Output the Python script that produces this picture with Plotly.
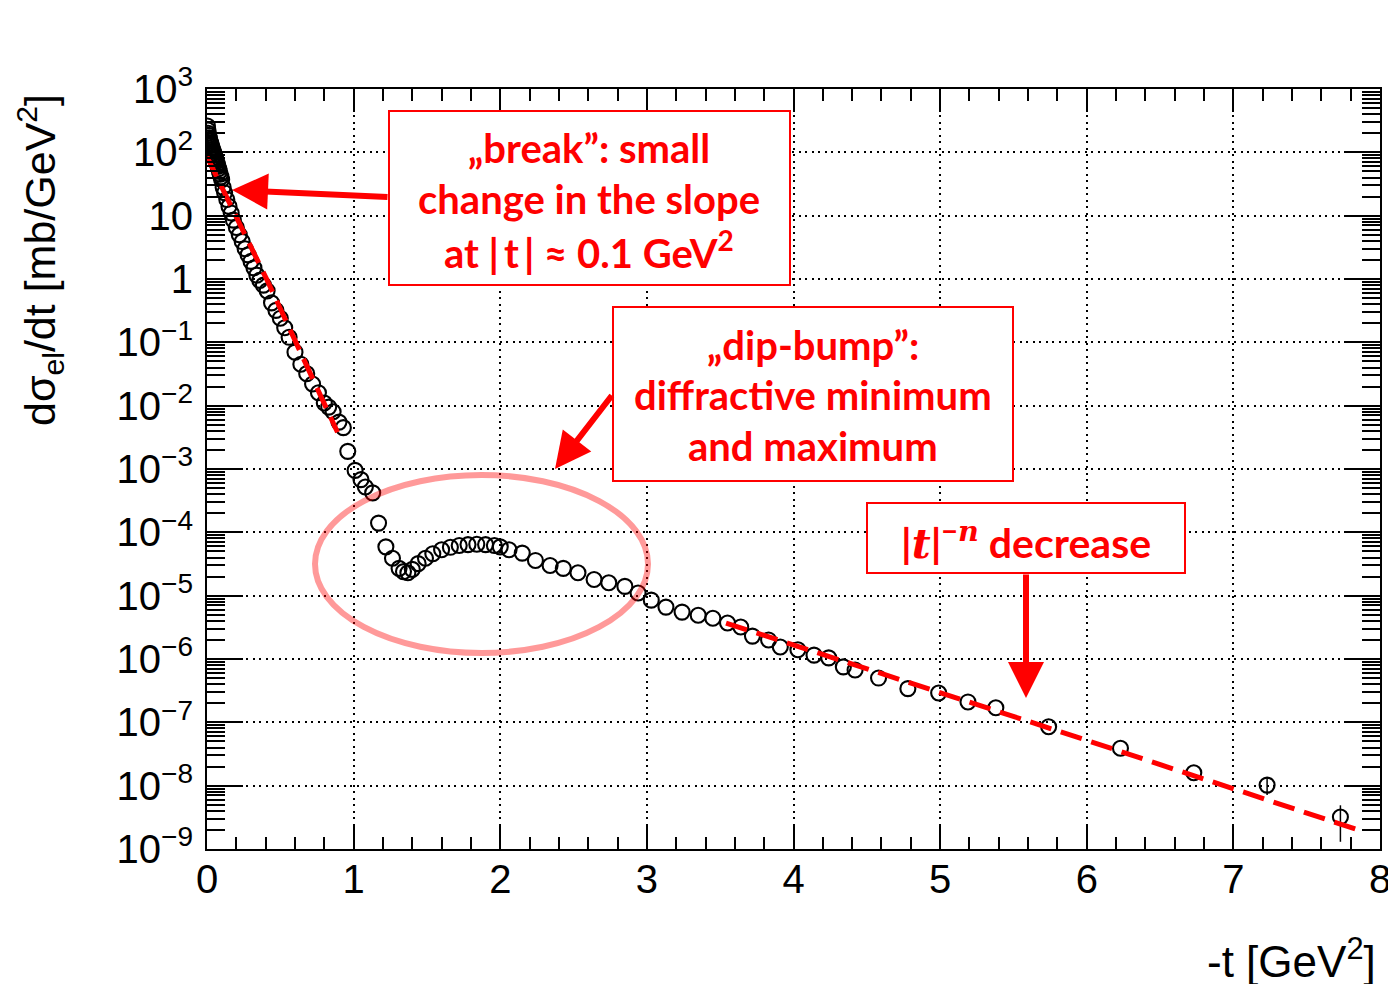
import plotly.graph_objects as go

# ---- measured elastic pp differential cross section ----
t_data = [
    0.003, 0.006, 0.009, 0.012, 0.015, 0.018, 0.021, 0.024, 0.027, 0.030,
    0.034, 0.038, 0.042, 0.046, 0.050, 0.055, 0.060, 0.065, 0.070, 0.075,
    0.080, 0.085, 0.090, 0.095, 0.100, 0.110, 0.120, 0.135, 0.150, 0.165,
    0.180, 0.200, 0.220, 0.240, 0.260, 0.280, 0.300, 0.320, 0.340, 0.360,
    0.385, 0.410, 0.440, 0.470, 0.500, 0.530, 0.560, 0.600, 0.640, 0.680,
    0.720, 0.760, 0.800, 0.830, 0.860, 0.900, 0.930, 0.960, 1.010, 1.050,
    1.080, 1.130, 1.170, 1.220, 1.265, 1.310, 1.340, 1.370, 1.400, 1.440,
    1.490, 1.540, 1.600, 1.660, 1.720, 1.780, 1.840, 1.900, 1.960, 2.000,
    2.060, 2.150, 2.240, 2.340, 2.430, 2.530, 2.640, 2.740, 2.850, 2.940,
    3.030, 3.130, 3.240, 3.350, 3.450, 3.550, 3.640, 3.720, 3.830, 3.910,
    4.030, 4.140, 4.240, 4.340, 4.420, 4.580, 4.780, 4.990, 5.190, 5.380,
    5.740, 6.230, 6.730, 7.230, 7.730,
]
dsigma_dt = [
    260, 225, 200, 185, 170, 160, 150, 142, 135, 128,
    120, 112, 105, 98, 92, 85, 78, 72, 66, 60,
    55, 50, 45, 41, 37, 28, 23, 18, 14, 11,
    8.5, 6.5, 5.0, 3.9, 3.0, 2.4, 1.9, 1.5, 1.15, 0.95,
    0.8, 0.65, 0.42, 0.32, 0.24, 0.17, 0.12, 0.070, 0.045, 0.032,
    0.022, 0.016, 0.011, 0.0095, 0.0080, 0.0055, 0.0045, 0.0019, 9.5e-4, 6.8e-4,
    5.2e-4, 4.2e-4, 1.4e-4, 5.9e-5, 3.9e-5, 2.7e-5, 2.4e-5, 2.3e-5, 2.6e-5, 3.2e-5,
    3.9e-5, 4.6e-5, 5.3e-5, 5.8e-5, 6.2e-5, 6.4e-5, 6.5e-5, 6.4e-5, 6.2e-5, 5.9e-5,
    5.3e-5, 4.7e-5, 3.6e-5, 3.0e-5, 2.7e-5, 2.3e-5, 1.8e-5, 1.6e-5, 1.4e-5, 1.1e-5,
    8.5e-6, 6.6e-6, 5.5e-6, 4.9e-6, 4.4e-6, 3.7e-6, 3.2e-6, 2.3e-6, 2.0e-6, 1.55e-6,
    1.4e-6, 1.15e-6, 1.04e-6, 7.5e-7, 6.7e-7, 5.0e-7, 3.4e-7, 2.9e-7, 2.1e-7, 1.7e-7,
    8.5e-8, 3.9e-8, 1.6e-8, 1.02e-8, 3.2e-9,
]
err_up = [0.0] * (len(t_data) - 2) + [3.0e-9, 1.7e-9]
err_down = [0.0] * (len(t_data) - 2) + [3.1e-9, 1.9e-9]

# ---- fitted trends drawn as dashed guides ----
fit_low_t = [0.0, 0.41, 0.89]
fit_low_y = [85, 0.96, 0.0038]
fit_high_t = [3.54, 6.0, 7.85]
fit_high_y = [3.7e-6, 5.2e-8, 2.0e-9]

# ---- axis ticks ----
y_tickvals = [1e3, 1e2, 1e1, 1e0, 1e-1, 1e-2, 1e-3, 1e-4, 1e-5, 1e-6, 1e-7, 1e-8, 1e-9]
y_ticktext = ["10<sup>3</sup>", "10<sup>2</sup>", "10", "1",
              "10<sup>\u22121</sup>", "10<sup>\u22122</sup>", "10<sup>\u22123</sup>",
              "10<sup>\u22124</sup>", "10<sup>\u22125</sup>", "10<sup>\u22126</sup>",
              "10<sup>\u22127</sup>", "10<sup>\u22128</sup>", "10<sup>\u22129</sup>"]
x_tickvals = [0, 1, 2, 3, 4, 5, 6, 7, 8]

W, H = 1388, 984
L, R, T, B = 207, 8, 89, 135
PW, PH = W - L - R, H - T - B


def px(x):
    return (x - L) / PW


def py(y):
    return (H - B - y) / PH


RED = "#ff0000"
BOX_FONT = "Lato"
SERIF_IT = "<span style=\"font-family:'DejaVu Serif';font-style:italic\">%s</span>"

fig = go.Figure()

fig.add_trace(go.Scatter(
    x=t_data, y=dsigma_dt, mode="markers",
    marker=dict(symbol="circle-open", size=15, color="black", line=dict(width=2.1, color="black")),
    error_y=dict(type="data", symmetric=False, array=err_up, arrayminus=err_down,
                 color="black", thickness=1.5, width=0),
    showlegend=False,
))
for ft, fy in ((fit_low_t, fit_low_y), (fit_high_t, fit_high_y)):
    fig.add_trace(go.Scatter(
        x=ft, y=fy, mode="lines",
        line=dict(color=RED, width=5, dash="22px,10px"),
        showlegend=False,
    ))

axis_common = dict(
    showline=True, linecolor="black", linewidth=2, mirror="ticks",
    ticks="inside", tickcolor="black", tickwidth=2,
    showgrid=True, gridcolor="black", gridwidth=1.6, griddash="2px,4.5px",
    zeroline=False, ticklabeloverflow="allow", automargin=False,
    tickfont=dict(family="Liberation Sans", size=40, color="black"),
)

fig.update_xaxes(
    range=[0, 8], tickmode="array", tickvals=x_tickvals, ticklen=23,
    minor=dict(dtick=0.2, ticks="inside", ticklen=12, tickwidth=2, tickcolor="black", showgrid=False),
    ticklabelstandoff=-6,
    **axis_common,
)
fig.update_yaxes(
    type="log", range=[-9, 3], tickmode="array", tickvals=y_tickvals, ticktext=y_ticktext,
    ticklen=36,
    minor=dict(dtick="D1", ticks="inside", ticklen=18, tickwidth=2, tickcolor="black", showgrid=False),
    ticklabelstandoff=4,
    **axis_common,
)

shapes = [
    # dip-bump region highlight
    dict(type="circle", xref="paper", yref="paper",
         x0=px(315), x1=px(648), y0=py(653), y1=py(475),
         line=dict(color="rgba(255,0,0,0.4)", width=6), layer="above"),
]
boxes = [(389, 790, 111, 285), (613, 1013, 307, 481), (867, 1185, 503, 573)]
for x0, x1, y0, y1 in boxes:
    shapes.append(dict(type="rect", xref="paper", yref="paper",
                       x0=px(x0), x1=px(x1), y0=py(y1), y1=py(y0),
                       line=dict(color=RED, width=2), fillcolor="white", layer="above"))
fig.update_layout(shapes=shapes)

annotations = []
text_lines = [
    ("\u201ebreak\u201d: small", 589, 148, 40),
    ("change in the slope", 589, 199, 40),
    ("at |\u2009t\u2009| \u2248 0.1 GeV<sup>2</sup>", 589, 250, 40),
    ("\u201edip-bump\u201d:", 813, 345, 40),
    ("diffractive minimum", 813, 395, 40),
    ("and maximum", 813, 446, 40),
    ("|" + SERIF_IT % "t" + "|<sup>\u2212" + SERIF_IT % "n" + "</sup> decrease", 1026, 540, 41),
]
for txt, x, y, fs in text_lines:
    annotations.append(dict(
        text="<b>" + txt + "</b>", x=px(x), y=py(y), xref="paper", yref="paper",
        xanchor="center", yanchor="middle", showarrow=False,
        font=dict(family=BOX_FONT, size=fs, color=RED),
    ))

# arrows: (tip_x, tip_y, tail_x, tail_y)
arrows = [(232, 190, 389, 197), (555, 469, 613, 394), (1026, 698, 1026, 573)]
for tx, ty, sx, sy in arrows:
    annotations.append(dict(
        text="", x=px(tx), y=py(ty), xref="paper", yref="paper",
        ax=sx - tx, ay=sy - ty, axref="pixel", ayref="pixel",
        showarrow=True, arrowhead=2, arrowsize=1.2, arrowwidth=6,
        arrowcolor=RED, standoff=0, startstandoff=0,
    ))

# axis titles
annotations.append(dict(
    text="-t [GeV<sup>2</sup>]", x=px(1378), y=py(958), xref="paper", yref="paper",
    xanchor="right", yanchor="middle", showarrow=False,
    font=dict(family="Liberation Sans", size=44, color="black"),
))
annotations.append(dict(
    text="d\u03c3<sub>el</sub>/dt [mb/GeV<sup>2</sup>]", x=px(40), y=py(260),
    xref="paper", yref="paper", xanchor="center", yanchor="middle",
    textangle=-90, showarrow=False,
    font=dict(family="Liberation Sans", size=43, color="black"),
))
fig.update_layout(annotations=annotations)

fig.update_layout(
    width=W, height=H,
    margin=dict(l=L, r=R, t=T, b=B, pad=0, autoexpand=False),
    paper_bgcolor="white", plot_bgcolor="white",
    showlegend=False,
)

fig.write_html("out.html")
